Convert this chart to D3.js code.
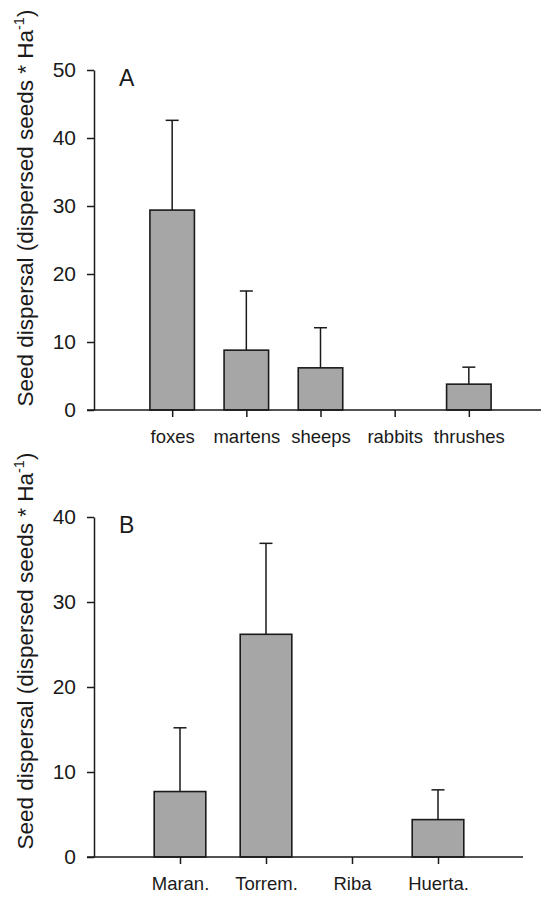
<!DOCTYPE html>
<html>
<head>
<meta charset="utf-8">
<script src="https://cdn.jsdelivr.net/npm/d3@7"></script>
<style>
  body { margin: 0; background: #fff; }
  svg text { font-family: Arial, "Liberation Sans", sans-serif; fill: #1a1a1a; }
</style>
</head>
<body>
<svg id="chart" width="541" height="898"></svg>
<script>
// panel A: dispersal by animal species
const speciesA = ["foxes", "martens", "sheeps", "rabbits", "thrushes"];
const meanA = [29.4, 8.8, 6.2, 0, 3.8];
const errA = [13.2, 8.7, 5.9, 0, 2.5];
const ticksA = [0, 10, 20, 30, 40, 50];

// panel B: dispersal by site
const sitesB = ["Maran.", "Torrem.", "Riba", "Huerta."];
const meanB = [7.7, 26.2, 0, 4.4];
const errB = [7.5, 10.7, 0, 3.5];
const ticksB = [0, 10, 20, 30, 40];

let svg = d3.select("#chart");
let ink = "#1a1a1a";

function panel(cfg) {
    let g = svg.append("g");

    let x = d3.scalePoint()
        .domain(cfg.cats)
        .range(cfg.xRange)
        .padding(1);
    let y = d3.scaleLinear()
        .domain([0, d3.max(cfg.ticks)])
        .range(cfg.yRange);

    let bw = x.step() * 0.6;
    let rows = cfg.cats.map((c, i) => ({ cat: c, v: cfg.mean[i], e: cfg.err[i] }));

    // error bars (upper only) drawn first so bars cover the lower part
    let eb = g.append("g").selectAll("g")
        .data(rows.filter(d => d.e > 0))
        .join("g");
    eb.append("line")
        .attr("x1", d => x(d.cat)).attr("x2", d => x(d.cat))
        .attr("y1", d => y(d.v)).attr("y2", d => y(d.v + d.e))
        .attr("stroke", ink).attr("stroke-width", 1.5);
    eb.append("line")
        .attr("x1", d => x(d.cat) - 6.5).attr("x2", d => x(d.cat) + 6.5)
        .attr("y1", d => y(d.v + d.e)).attr("y2", d => y(d.v + d.e))
        .attr("stroke", ink).attr("stroke-width", 1.5);

    g.append("g").selectAll("rect")
        .data(rows.filter(d => d.v > 0))
        .join("rect")
        .attr("x", d => x(d.cat) - bw / 2)
        .attr("y", d => y(d.v))
        .attr("width", bw)
        .attr("height", d => y(0) - y(d.v))
        .attr("fill", "#a6a6a6")
        .attr("stroke", ink)
        .attr("stroke-width", 1.6);

    // y axis
    let ya = g.append("g")
        .attr("transform", "translate(" + cfg.axisX + ",0)")
        .call(d3.axisLeft(y).tickValues(cfg.ticks).tickSize(7).tickSizeOuter(0).tickPadding(11));
    ya.selectAll("path, line").attr("stroke", ink).attr("stroke-width", 1.5);
    ya.selectAll("text").style("font-size", "21px").attr("fill", ink);

    // x axis
    let xa = g.append("g")
        .attr("transform", "translate(0," + y(0) + ")")
        .call(d3.axisBottom(x).tickSize(7).tickPadding(13));
    xa.select(".domain").remove();
    xa.selectAll("line").attr("stroke", ink).attr("stroke-width", 1.5);
    xa.selectAll("text").style("font-size", "18.5px").attr("fill", ink);

    g.append("line")
        .attr("x1", cfg.axisX - 7).attr("x2", cfg.xEnd)
        .attr("y1", y(0)).attr("y2", y(0))
        .attr("stroke", ink).attr("stroke-width", 1.5);

    // panel letter
    g.append("text")
        .attr("x", 119).attr("y", y(d3.max(cfg.ticks)) + 16)
        .style("font-size", "23px")
        .text(cfg.letter);

    // y title
    let t = g.append("text")
        .attr("transform", "translate(33," + cfg.titleY + ") rotate(-90)")
        .attr("text-anchor", "middle")
        .style("font-size", "22.5px");
    t.append("tspan").text("Seed dispersal (dispersed seeds * Ha");
    t.append("tspan").attr("dy", -9).style("font-size", "14.5px").text("-1");
    t.append("tspan").attr("dy", 9).text(")");
}

panel({ cats: speciesA, mean: meanA, err: errA, ticks: ticksA, letter: "A",
        xRange: [98, 543], yRange: [410, 70], axisX: 94, xEnd: 541, titleY: 208 });
panel({ cats: sitesB, mean: meanB, err: errB, ticks: ticksB, letter: "B",
        xRange: [94, 524], yRange: [857, 517], axisX: 94, xEnd: 523, titleY: 651 });
</script>
</body>
</html>
